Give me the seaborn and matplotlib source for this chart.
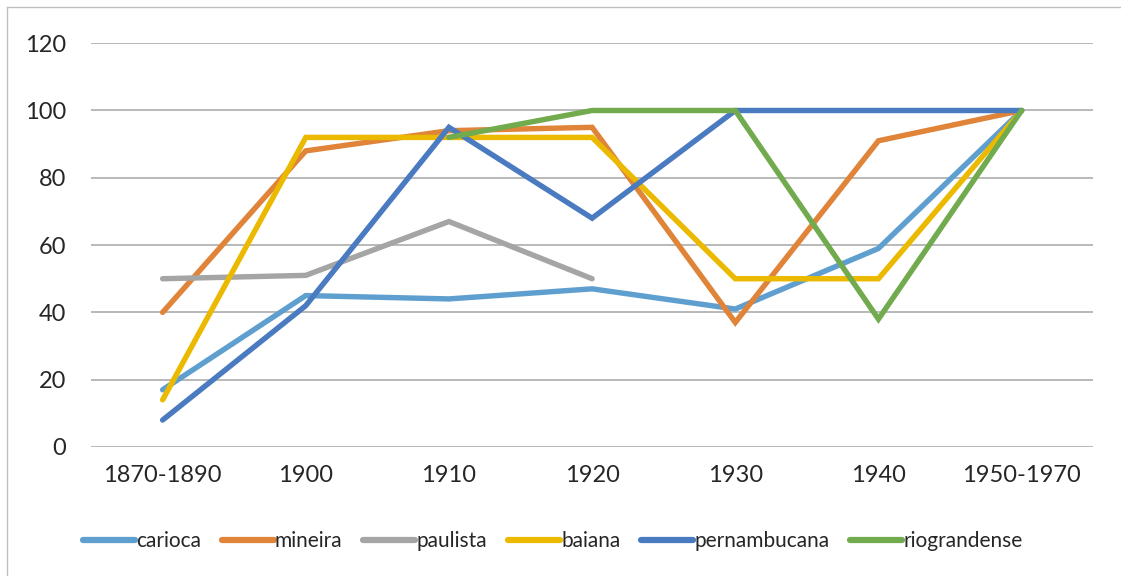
import numpy as np
import pandas as pd
import matplotlib
matplotlib.use('Agg')
import matplotlib.pyplot as plt
from matplotlib.lines import Line2D
import seaborn as sns

# categories on the x axis
periods = ['1870-1890', '1900', '1910', '1920', '1930', '1940', '1950-1970']

# values (NaN = no point)
carioca = [17, 45, 44, 47, 41, 59, 100]
mineira = [40, 88, 94, 95, 37, 91, 100]
paulista = [50, 51, 67, 50, np.nan, np.nan, np.nan]
baiana = [14, 92, 92, 92, 50, 50, 100]
pernambucana = [8, 42, 95, 68, 100, 100, 100]
riograndense = [np.nan, np.nan, 92, 100, 100, 38, 100]

series_names = ['carioca', 'mineira', 'paulista', 'baiana', 'pernambucana', 'riograndense']
series_vals = [carioca, mineira, paulista, baiana, pernambucana, riograndense]
colors = ['#5F9FCF', '#DF8438', '#A5A5A5', '#EBBA00', '#4A7BC0', '#72AA4E']
y_ticks = [0, 20, 40, 60, 80, 100, 120]

# long dataframe for seaborn
rows = []
for name, vals in zip(series_names, series_vals):
    for i, v in enumerate(vals):
        rows.append({'pos': i, 'value': v, 'serie': name})
df = pd.DataFrame(rows).dropna()

sns.set_style('white')
plt.rcParams['font.family'] = ['Lato', 'DejaVu Sans']

fig = plt.figure(figsize=(11.21, 5.76), dpi=100)
ax = fig.add_axes([0.0812, 0.224, 0.894, 0.701])

for y in y_ticks:
    ax.axhline(y, color='#A6A6A6', lw=1.1, zorder=0)

sns.lineplot(data=df, x='pos', y='value', hue='serie', hue_order=series_names,
             palette=colors, linewidth=3.9, sort=False, ax=ax,
             solid_capstyle='round', solid_joinstyle='miter')

ax.set_xlim(-0.5, len(periods) - 0.5)
ax.set_ylim(0, 120)
ax.set_xticks(range(len(periods)))
ax.set_xticklabels(periods)
ax.set_yticks(y_ticks)
ax.tick_params(axis='y', labelsize=17, pad=18, length=0)
ax.tick_params(axis='x', labelsize=17, pad=13, length=0)
ax.set_xlabel('')
ax.set_ylabel('')
for s in ax.spines.values():
    s.set_visible(False)

leg = ax.legend(loc='center', bbox_to_anchor=(0.493, 0.06), bbox_transform=fig.transFigure,
                ncol=6, frameon=False, fontsize=15, handlelength=2.5,
                handletextpad=0.05, columnspacing=1.0)
for h in leg.get_lines():
    h.set_linewidth(4.5)
    h.set_solid_capstyle('round')

# chart frame (left and top edge visible in the crop)
fig.add_artist(Line2D([7 / 1121, 7 / 1121], [0, 1 - 7 / 576], transform=fig.transFigure,
                      color='#BFBFBF', lw=1))
fig.add_artist(Line2D([7 / 1121, 1], [1 - 7 / 576, 1 - 7 / 576], transform=fig.transFigure,
                      color='#BFBFBF', lw=1))

fig.savefig('out.png', dpi=100)
